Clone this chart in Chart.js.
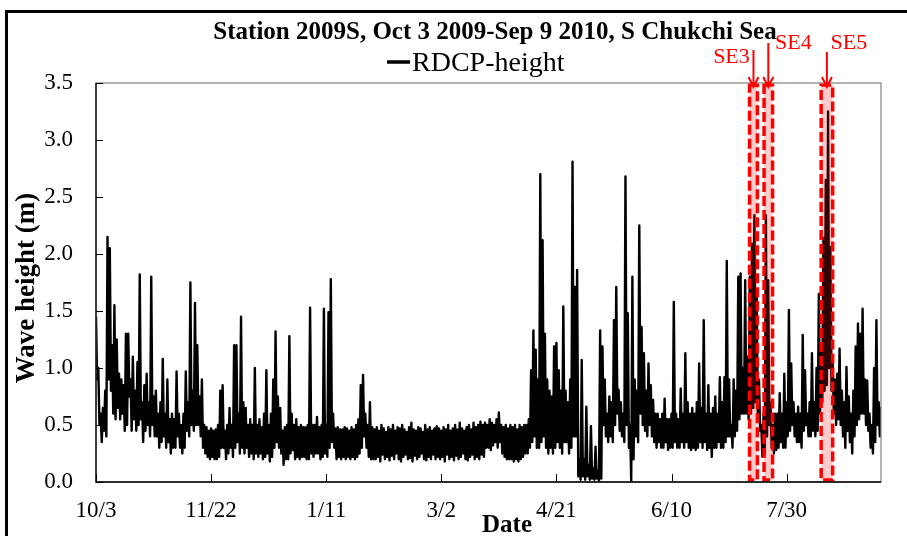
<!DOCTYPE html>
<html>
<head>
<meta charset="utf-8">
<title>Station 2009S wave height</title>
<script src="https://cdn.jsdelivr.net/npm/chart.js@4.4.1/dist/chart.umd.min.js"></script>
<style>
  html, body { margin: 0; padding: 0; background: #fff; }
  #wrap { width: 907px; height: 536px; }
</style>
</head>
<body>
<div id="wrap"><canvas id="waveChart" width="907" height="536"></canvas></div>
<script>
// x axis: days since Oct 3 2009, labelled every 50 days
const tickDays = [0, 50, 100, 150, 200, 250, 300];
const tickLabels = ['10/3', '11/22', '1/11', '3/2', '4/21', '6/10', '7/30'];

// daily max / min RDCP wave height (m), one pair of arrays per month
const octMax = [1.45, 1.0, 0.6, 0.65, 0.8, 2.15, 2.05, 1.2, 1.55, 1.25, 0.95, 0.9, 0.85, 1.3, 1.3, 0.9, 1.1, 0.8, 1.05, 1.82, 0.7, 0.85, 0.95, 0.7, 1.8, 0.75, 0.8, 0.6, 0.7];
const octMin = [0.9, 0.5, 0.35, 0.45, 0.4, 0.9, 0.8, 0.6, 0.55, 0.65, 0.55, 0.6, 0.45, 0.5, 0.75, 0.45, 0.55, 0.45, 0.5, 0.55, 0.35, 0.45, 0.5, 0.4, 0.5, 0.4, 0.4, 0.3, 0.35];
const novMax = [1.08, 0.6, 0.9, 0.55, 0.6, 0.55, 0.97, 0.6, 0.5, 0.6, 0.97, 0.7, 1.75, 0.8, 1.57, 1.2, 0.75, 0.9, 0.5, 0.48, 0.45, 0.47, 0.45, 0.46, 0.5, 0.8, 0.85, 0.45, 0.5, 0.65];
const novMin = [0.4, 0.3, 0.35, 0.25, 0.3, 0.3, 0.4, 0.3, 0.25, 0.3, 0.45, 0.4, 0.5, 0.45, 0.5, 0.5, 0.4, 0.3, 0.25, 0.22, 0.2, 0.22, 0.2, 0.2, 0.22, 0.3, 0.3, 0.2, 0.25, 0.3];
const decMax = [0.5, 1.2, 1.2, 0.6, 1.45, 0.7, 0.65, 0.5, 0.55, 0.5, 1.0, 0.5, 0.55, 0.48, 0.6, 0.98, 0.5, 0.6, 0.9, 1.32, 0.75, 0.65, 0.45, 0.48, 0.5, 1.28, 0.6, 0.5, 0.55, 0.48, 0.5];
const decMin = [0.22, 0.3, 0.35, 0.25, 0.3, 0.25, 0.3, 0.22, 0.25, 0.2, 0.25, 0.22, 0.25, 0.2, 0.22, 0.25, 0.18, 0.22, 0.3, 0.35, 0.3, 0.25, 0.15, 0.2, 0.2, 0.25, 0.28, 0.2, 0.22, 0.2, 0.22];
const janMax = [0.48, 0.48, 0.5, 1.53, 0.5, 0.5, 0.57, 0.48, 0.5, 1.52, 0.5, 1.49, 1.78, 0.6, 0.47, 0.48, 0.46, 0.46, 0.48, 0.47, 0.45, 0.48, 0.46, 0.5, 0.55, 0.85, 0.94, 0.6, 0.5, 0.7, 0.48];
const janMin = [0.22, 0.2, 0.2, 0.25, 0.22, 0.25, 0.25, 0.2, 0.22, 0.25, 0.22, 0.3, 0.35, 0.3, 0.2, 0.22, 0.2, 0.22, 0.2, 0.22, 0.2, 0.22, 0.2, 0.22, 0.25, 0.3, 0.4, 0.3, 0.22, 0.2, 0.2];
const febMax = [0.46, 0.48, 0.45, 0.5, 0.47, 0.44, 0.48, 0.46, 0.5, 0.45, 0.48, 0.47, 0.5, 0.46, 0.44, 0.48, 0.52, 0.46, 0.45, 0.48, 0.47, 0.44, 0.5, 0.46, 0.48, 0.45, 0.47, 0.49];
const febMin = [0.2, 0.22, 0.18, 0.24, 0.2, 0.22, 0.19, 0.23, 0.2, 0.25, 0.2, 0.18, 0.22, 0.24, 0.2, 0.21, 0.18, 0.23, 0.2, 0.22, 0.25, 0.2, 0.19, 0.22, 0.2, 0.24, 0.2, 0.22];
const marMax = [0.47, 0.45, 0.48, 0.46, 0.5, 0.45, 0.47, 0.5, 0.46, 0.52, 0.47, 0.45, 0.48, 0.5, 0.46, 0.52, 0.48, 0.5, 0.53, 0.5, 0.52, 0.5, 0.55, 0.52, 0.5, 0.55, 0.61, 0.5, 0.48, 0.5, 0.47];
const marMin = [0.2, 0.22, 0.18, 0.24, 0.2, 0.22, 0.19, 0.23, 0.2, 0.22, 0.25, 0.2, 0.19, 0.22, 0.24, 0.2, 0.22, 0.2, 0.24, 0.22, 0.3, 0.3, 0.28, 0.32, 0.35, 0.3, 0.35, 0.25, 0.22, 0.2, 0.2];
const aprMax = [0.5, 0.48, 0.5, 0.46, 0.5, 0.48, 0.5, 0.5, 0.55, 0.98, 1.33, 1.16, 0.9, 2.7, 2.12, 1.3, 0.9, 0.8, 0.75, 1.19, 1.22, 0.98, 0.8, 1.54, 0.8, 0.7, 0.9, 2.81, 1.71, 1.86];
const aprMin = [0.2, 0.18, 0.2, 0.18, 0.2, 0.22, 0.25, 0.25, 0.3, 0.35, 0.4, 0.3, 0.3, 0.35, 0.4, 0.3, 0.25, 0.3, 0.25, 0.3, 0.35, 0.3, 0.25, 0.35, 0.35, 0.25, 0.3, 0.4, 0.4, 0.05];
const mayMax = [0.2, 1.07, 0.2, 0.66, 0.15, 0.49, 0.12, 0.31, 0.1, 1.33, 1.19, 0.9, 0.6, 0.75, 0.7, 1.42, 1.71, 0.81, 0.7, 0.6, 2.68, 1.48, 0.5, 1.8, 0.9, 0.8, 2.25, 1.36, 1.13, 0.8, 1.04];
const mayMin = [0.02, 0.05, 0.02, 0.05, 0.02, 0.03, 0.02, 0.03, 0.01, 0.03, 0.5, 0.4, 0.35, 0.4, 0.35, 0.5, 0.6, 0.45, 0.4, 0.35, 0.5, 0.3, 0.01, 0.2, 0.4, 0.35, 0.6, 0.5, 0.45, 0.4, 0.5];
const junMax = [0.85, 0.72, 0.6, 0.6, 0.55, 0.6, 0.73, 0.55, 0.55, 0.6, 1.58, 0.6, 0.55, 0.82, 0.6, 1.13, 0.7, 0.6, 0.65, 0.6, 0.7, 1.04, 0.65, 1.42, 0.6, 0.85, 0.6, 0.65, 0.75, 0.6];
const junMin = [0.4, 0.35, 0.3, 0.35, 0.3, 0.3, 0.35, 0.28, 0.3, 0.3, 0.35, 0.3, 0.3, 0.35, 0.3, 0.35, 0.3, 0.28, 0.3, 0.28, 0.3, 0.35, 0.3, 0.35, 0.28, 0.3, 0.22, 0.3, 0.3, 0.35];
const julMax = [0.92, 0.7, 0.92, 1.94, 0.9, 0.5, 0.9, 0.8, 1.8, 1.83, 1.0, 1.77, 1.1, 1.8, 2.09, 2.34, 1.63, 0.9, 0.5, 0.6, 2.34, 1.77, 0.7, 0.5, 0.6, 0.6, 0.78, 0.6, 0.95, 0.7, 1.51];
const julMin = [0.3, 0.3, 0.35, 0.4, 0.4, 0.3, 0.4, 0.45, 0.55, 0.6, 0.6, 0.6, 0.55, 0.6, 0.65, 0.7, 0.6, 0.45, 0.22, 0.25, 0.4, 0.5, 0.3, 0.25, 0.28, 0.3, 0.35, 0.3, 0.3, 0.4, 0.45];
const augMax = [1.04, 0.7, 0.6, 0.66, 0.6, 1.29, 0.98, 0.6, 0.7, 1.13, 0.7, 1.0, 1.65, 1.2, 2.14, 2.65, 3.25, 2.06, 1.04, 0.9, 0.95, 1.17, 0.8, 0.7, 1.01, 0.75, 0.6, 0.8, 1.19, 1.39, 1.3];
const augMin = [0.5, 0.4, 0.35, 0.35, 0.3, 0.45, 0.5, 0.4, 0.4, 0.45, 0.4, 0.45, 0.6, 0.7, 0.8, 0.85, 1.0, 0.8, 0.6, 0.5, 0.55, 0.5, 0.4, 0.3, 0.45, 0.35, 0.25, 0.4, 0.5, 0.55, 0.6];
const sepMax = [1.52, 0.9, 0.89, 0.6, 0.5, 1.0, 1.42, 0.7, 0.66];
const sepMin = [0.6, 0.5, 0.45, 0.3, 0.25, 0.35, 0.5, 0.4, 0.3];

// storm events (day ranges)
const events = [
  { name: 'SE3', start: 283.9, end: 287.3 },
  { name: 'SE4', start: 290.2, end: 293.9 },
  { name: 'SE5', start: 315.0, end: 320.0 }
];

const dailyMax = [].concat(octMax, novMax, decMax, janMax, febMax, marMax, aprMax, mayMax, junMax, julMax, augMax, sepMax);
const dailyMin = [].concat(octMin, novMin, decMin, janMin, febMin, marMin, aprMin, mayMin, junMin, julMin, augMin, sepMin);

// each day: peak first, trough half a day later
const points = [];
dailyMax.forEach((hi, day) => {
  points.push({ x: day, y: hi });
  points.push({ x: day + 0.5, y: dailyMin[day] });
});

const SERIF = "'Liberation Serif', 'Times New Roman', serif";

// where the event captions and arrows sit
const eventLabelStyle = {
  SE3: { dx: -22, textY: 57, arrowTop: 50 },
  SE4: { dx: 25, textY: 43, arrowTop: 43 },
  SE5: { dx: 22, textY: 43, arrowTop: 52 }
};

const chartDecor = {
  id: 'chartDecor',
  beforeDraw(chart) {
    const ctx = chart.ctx;
    ctx.save();
    ctx.fillStyle = '#fff';
    ctx.fillRect(0, 0, chart.width, chart.height);
    // outer frame, only left and top edges show
    ctx.strokeStyle = '#000';
    ctx.lineWidth = 3;
    ctx.beginPath();
    ctx.moveTo(6.5, chart.height + 5);
    ctx.lineTo(6.5, 11.5);
    ctx.lineTo(chart.width + 5, 11.5);
    ctx.stroke();
    ctx.restore();
  },
  afterDatasetsDraw(chart) {
    const { ctx, chartArea: a, scales: { x, y } } = chart;
    ctx.save();

    // shaded storm windows, drawn over the line
    events.forEach(ev => {
      const x0 = x.getPixelForValue(ev.start);
      const x1 = x.getPixelForValue(ev.end);
      ctx.fillStyle = 'rgba(255, 0, 0, 0.2)';
      ctx.fillRect(x0, a.top + 2, x1 - x0, a.bottom - a.top - 4);
      ctx.setLineDash([10, 4]);
      ctx.strokeStyle = '#ff0000';
      ctx.lineWidth = 3.5;
      ctx.strokeRect(x0, a.top + 2, x1 - x0, a.bottom - a.top - 4);
    });
    ctx.setLineDash([]);

    // plot frame: grey box, black axes
    ctx.strokeStyle = '#8a8a8a';
    ctx.lineWidth = 1.3;
    ctx.strokeRect(a.left, a.top, a.right - a.left, a.bottom - a.top);
    ctx.strokeStyle = '#000';
    ctx.beginPath();
    ctx.moveTo(a.left, a.top);
    ctx.lineTo(a.left, a.bottom);
    ctx.lineTo(a.right, a.bottom);
    ctx.stroke();

    // inward tick marks
    ctx.lineWidth = 1;
    ctx.beginPath();
    y.ticks.forEach(t => {
      const py = Math.round(y.getPixelForValue(t.value)) + 0.5;
      ctx.moveTo(a.left, py);
      ctx.lineTo(a.left + 7, py);
    });
    x.ticks.forEach(t => {
      const px = Math.round(x.getPixelForValue(t.value)) + 0.5;
      ctx.moveTo(px, a.bottom);
      ctx.lineTo(px, a.bottom - 8);
    });
    ctx.stroke();
    ctx.restore();
  },
  afterDraw(chart) {
    const { ctx, chartArea: a, scales: { x } } = chart;
    ctx.save();

    // title
    ctx.fillStyle = '#000';
    ctx.textAlign = 'center';
    ctx.textBaseline = 'alphabetic';
    ctx.font = 'bold 25px ' + SERIF;
    ctx.fillText('Station 2009S, Oct 3 2009-Sep 9 2010, S Chukchi Sea', 495, 39);

    // legend
    ctx.strokeStyle = '#000';
    ctx.lineWidth = 3.5;
    ctx.beginPath();
    ctx.moveTo(387, 62);
    ctx.lineTo(410, 62);
    ctx.stroke();
    ctx.textAlign = 'left';
    ctx.font = '28px ' + SERIF;
    ctx.fillText('RDCP-height', 412, 71);

    // axis titles
    ctx.textAlign = 'center';
    ctx.font = 'bold 25px ' + SERIF;
    ctx.fillText('Date', 507, 532);
    ctx.save();
    ctx.translate(27, 288);
    ctx.rotate(-Math.PI / 2);
    ctx.textBaseline = 'middle';
    ctx.font = 'bold 27px ' + SERIF;
    ctx.fillText('Wave height (m)', 0, 0);
    ctx.restore();

    // event captions with arrows
    ctx.strokeStyle = '#ff0000';
    ctx.fillStyle = '#ff0000';
    ctx.lineWidth = 2;
    ctx.font = '22px ' + SERIF;
    ctx.textBaseline = 'middle';
    events.forEach(ev => {
      const s = eventLabelStyle[ev.name];
      const ax = (x.getPixelForValue(ev.start) + x.getPixelForValue(ev.end)) / 2;
      const tip = a.top + 4;
      ctx.beginPath();
      ctx.moveTo(ax, s.arrowTop);
      ctx.lineTo(ax, tip);
      ctx.moveTo(ax - 5, tip - 10);
      ctx.lineTo(ax, tip);
      ctx.lineTo(ax + 5, tip - 10);
      ctx.stroke();
      ctx.fillText(ev.name, ax + s.dx, s.textY);
    });
    ctx.restore();
  }
};

new Chart(document.getElementById('waveChart'), {
  type: 'line',
  data: {
    datasets: [{
      label: 'RDCP-height',
      data: points,
      borderColor: '#000',
      borderWidth: 2.4,
      borderJoinStyle: 'round',
      pointRadius: 0,
      tension: 0,
      fill: false
    }]
  },
  options: {
    responsive: false,
    animation: false,
    devicePixelRatio: 1,
    events: [],
    layout: { padding: { left: 0, right: 26, top: 83, bottom: 0 } },
    plugins: {
      legend: { display: false },
      title: { display: false },
      tooltip: { enabled: false }
    },
    scales: {
      x: {
        type: 'linear',
        min: 0,
        max: 341,
        afterBuildTicks: scale => { scale.ticks = tickDays.map(v => ({ value: v })); },
        afterFit: scale => { scale.height = 54; },
        grid: { display: false, drawTicks: false },
        border: { display: false },
        ticks: {
          autoSkip: false,
          maxRotation: 0,
          padding: 15,
          color: '#000',
          font: { family: SERIF, size: 23 },
          callback: value => tickLabels[tickDays.indexOf(value)]
        }
      },
      y: {
        min: 0,
        max: 3.5,
        afterFit: scale => { scale.width = 96; },
        grid: { display: false, drawTicks: false },
        border: { display: false },
        ticks: {
          stepSize: 0.5,
          padding: 23,
          color: '#000',
          font: { family: SERIF, size: 23 },
          callback: value => value.toFixed(1)
        }
      }
    }
  },
  plugins: [chartDecor]
});
</script>
</body>
</html>
